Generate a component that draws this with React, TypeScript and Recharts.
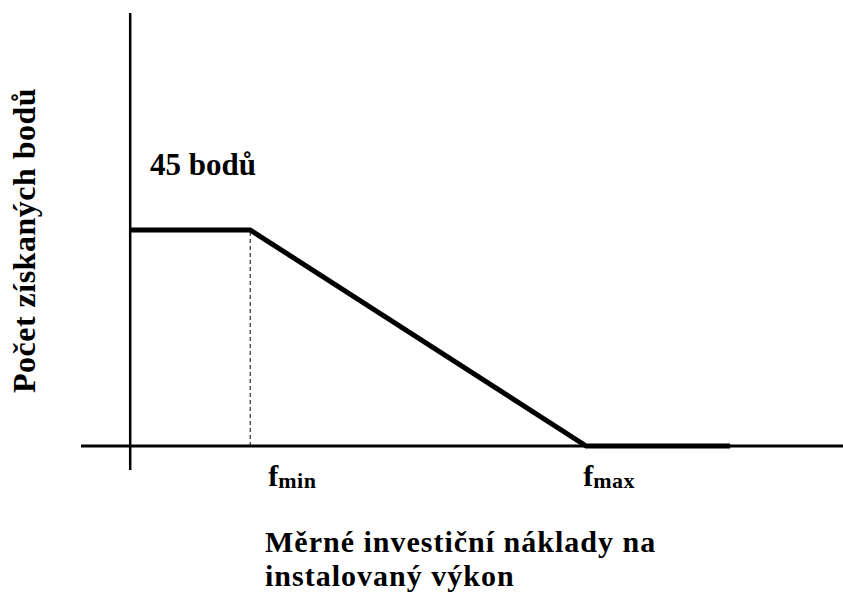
import React from "react";
import { LineChart, Line, XAxis, YAxis, ReferenceLine, ReferenceDot } from "recharts";

// x: specific investment cost (arbitrary units), y: points gained
const xValues = [0, 20, 76, 100];
const yValues = [45, 45, 0, 0];
const fMin = 20;
const maxPoints = 45;
const tickValues = [20, 76];
const tickMain = ["f", "f"];
const tickSub = ["min", "max"];
const pointsLabel = "45 bodů";
const yAxisTitle = "Počet získaných bodů";
const xAxisTitleLines = ["Měrné investiční náklady na", "instalovaný výkon"];

const data = xValues.map((x, i) => ({ x, y: yValues[i] }));

const FONT = "'Liberation Serif', 'Times New Roman', serif";
const tickOffsets = [18, -3];

const FTick = (props: any) => {
  const { x, y, index } = props;
  return (
    <text
      x={x + tickOffsets[index]}
      y={y + 8}
      fontFamily={FONT}
      fontWeight="bold"
      fill="#000"
      textAnchor="start"
    >
      <tspan fontSize={30}>{tickMain[index]}</tspan>
      <tspan fontSize={22} dy={2} letterSpacing={0.5}>
        {tickSub[index]}
      </tspan>
    </text>
  );
};

const renderYLabel = (props: any) => {
  const vb = props.viewBox || { x: 0, y: 13, width: 81, height: 457 };
  const cx = vb.x + 35;
  const cy = vb.y + vb.height / 2 - 1;
  return (
    <text
      x={cx}
      y={cy}
      transform={`rotate(-90, ${cx}, ${cy})`}
      textAnchor="middle"
      fontFamily={FONT}
      fontWeight="bold"
      fontSize={32}
      letterSpacing={0.5}
      fill="#000"
    >
      {yAxisTitle}
    </text>
  );
};

const renderXLabel = (props: any) => {
  const vb = props.viewBox || { x: 81, y: 470, width: 762, height: 30 };
  const left = vb.x + vb.width / 2 - 197;
  return (
    <g fontFamily={FONT} fontWeight="bold" fontSize={30} letterSpacing={1} fill="#000">
      <text x={left} y={552}>{xAxisTitleLines[0]}</text>
      <text x={left} y={586}>{xAxisTitleLines[1]}</text>
    </g>
  );
};

const renderPointsLabel = (props: any) => {
  const vb = props.viewBox;
  return (
    <text
      x={vb.x + vb.width / 2}
      y={vb.y + vb.height / 2}
      fontFamily={FONT}
      fontWeight="bold"
      fontSize={31}
      fill="#000"
      textAnchor="start"
    >
      {pointsLabel}
    </text>
  );
};

export default function App() {
  return (
    <div style={{ position: "absolute", left: 0, top: 0, width: 843, height: 599, background: "#fff" }}>
      <LineChart
        width={843}
        height={599}
        data={data}
        margin={{ top: 13, right: 0, left: 0, bottom: 99 }}
      >
        <XAxis
          type="number"
          dataKey="x"
          domain={[-8.2, 118.8]}
          ticks={tickValues}
          interval={0}
          axisLine={false}
          tickLine={false}
          height={30}
          tick={<FTick />}
          label={{ content: renderXLabel }}
        />
        <YAxis
          type="number"
          domain={[-5, 90.2]}
          width={81}
          axisLine={false}
          tickLine={false}
          tick={false}
          label={{ content: renderYLabel }}
        />
        <ReferenceLine x={0} stroke="#000" strokeWidth={2.5} />
        <ReferenceLine y={0} stroke="#000" strokeWidth={3} />
        <ReferenceLine
          segment={[
            { x: fMin, y: 0 },
            { x: fMin, y: maxPoints },
          ]}
          stroke="#000"
          strokeWidth={1}
          strokeDasharray="4 3"
        />
        <ReferenceDot
          x={3.3}
          y={56.5}
          r={1}
          fill="none"
          stroke="none"
          label={{ content: renderPointsLabel }}
        />
        <Line
          type="linear"
          dataKey="y"
          stroke="#000"
          strokeWidth={5}
          dot={false}
          activeDot={false}
          isAnimationActive={false}
          strokeLinejoin="miter"
        />
      </LineChart>
    </div>
  );
}
